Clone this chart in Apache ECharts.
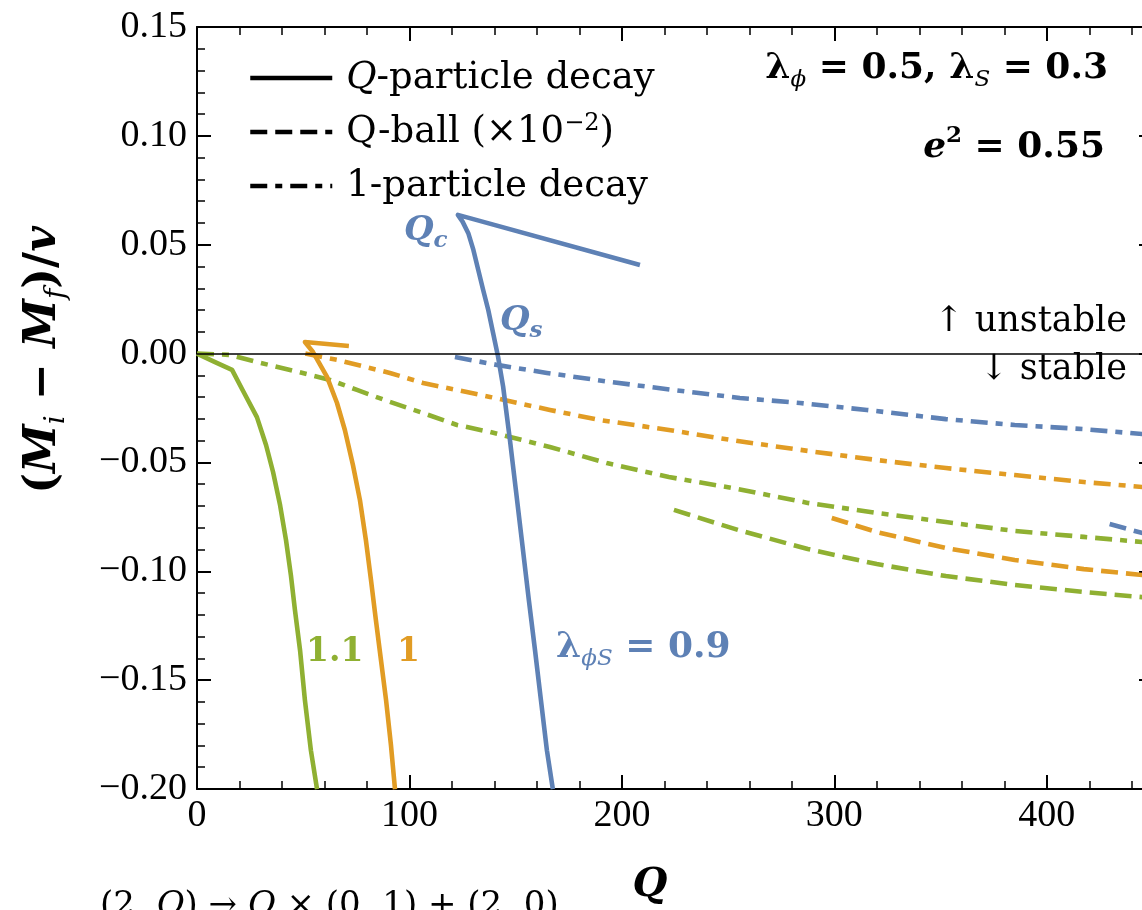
<!DOCTYPE html>
<html>
<head>
<meta charset="utf-8">
<script src="https://cdn.jsdelivr.net/npm/echarts@6/dist/echarts.min.js"></script>
<style>
  html, body { margin: 0; background: #fff; }
  #main { width: 1142px; height: 910px; }
</style>
</head>
<body>
<div id="main"></div>
<script>
// colours (Mathematica default palette)
const BLUE = '#5E81B5';
const ORANGE = '#E19C24';
const GREEN = '#8FB032';

// Q-particle decay (solid), [Q, (Mi - Mf)/v]
const qpGreen = [[0, 0], [8.5, -0.0039], [16.5, -0.0075], [21.2, -0.0163], [28.2, -0.0292], [32.5, -0.042],
  [35.8, -0.0544], [39.1, -0.0696], [41.9, -0.0857], [44.2, -0.1018], [46.1, -0.1178], [48.5, -0.1362],
  [50.8, -0.1592], [53.6, -0.1822], [56.5, -0.2001]];
const qpOrange = [[71.5, 0.0035], [50.8, 0.0053], [54.6, 0.0007], [61.2, -0.0107], [65.9, -0.0227],
  [69.6, -0.0351], [73.4, -0.0512], [76.7, -0.0673], [79.5, -0.0857], [81.9, -0.104], [84.2, -0.1224],
  [86.6, -0.1408], [89.0, -0.1592], [91.3, -0.1799], [93.2, -0.2001]];
const qpBlue = [[208.5, 0.0407], [122.8, 0.0637], [125.0, 0.0606], [127.7, 0.0553], [130.1, 0.0476],
  [132.4, 0.0384], [134.7, 0.0292], [137.1, 0.02], [139.4, 0.0093], [141.7, -0.0014], [144.1, -0.0152],
  [147.3, -0.0397], [150.1, -0.0627], [152.9, -0.0857], [156.2, -0.1132], [159.1, -0.1362],
  [161.9, -0.1592], [164.7, -0.1822], [167.5, -0.2001]];

// Q-ball (x10^-2), dashed
const qbGreen = [[224.5, -0.0718], [254.6, -0.081], [287.5, -0.0898], [320, -0.0967], [352.5, -0.1022],
  [384.9, -0.1063], [417.4, -0.1095], [450, -0.1123]];
const qbOrange = [[298.8, -0.0755], [320, -0.082], [352.5, -0.0893], [384.9, -0.0948], [417.4, -0.099],
  [450, -0.1022]];
const qbBlue = [[429.6, -0.0783], [450, -0.0838]];

// 1-particle decay, dash-dot
const opGreen = [[0, 0], [15.5, -0.0006], [28.2, -0.0039], [43.8, -0.0075], [62.6, -0.0121], [75.3, -0.0167],
  [90.8, -0.0222], [106.4, -0.0273], [122.4, -0.0328], [137.9, -0.036], [166.1, -0.0429], [192.9, -0.0503],
  [222.1, -0.0567], [254.6, -0.0622], [287.5, -0.0686], [320, -0.0732], [352.5, -0.0774], [384.9, -0.0815],
  [417.4, -0.0842], [450, -0.087]];
const opOrange = [[51, 0], [65.9, -0.0029], [90.8, -0.0089], [106.4, -0.0135], [137.9, -0.0199],
  [166.1, -0.0259], [189.6, -0.0305], [222.1, -0.0351], [254.6, -0.0402], [287.5, -0.0447], [320, -0.0489],
  [352.5, -0.0526], [384.9, -0.0558], [417.4, -0.059], [450, -0.0617]];
const opBlue = [[121.4, -0.0016], [141.2, -0.0052], [164.7, -0.0089], [194.4, -0.013], [224, -0.0167],
  [255.5, -0.0204], [283.8, -0.0227], [315.3, -0.0259], [352.5, -0.0301], [384.9, -0.0328],
  [417.4, -0.0347], [450, -0.0374]];

const legendNames = ['Q-particle decay', 'Q-ball', '1-particle decay'];

const DASH = [17, 8];
const DASHDOT = [17, 8, 7, 8];
const LW = 4.6;
const SERIF = 'DejaVu Serif';
const NUM = 'Liberation Serif';

function curve(data, color, type) {
  return {
    type: 'line', data: data, symbol: 'none', silent: true,
    lineStyle: { color: color, width: LW, type: type, cap: 'butt', join: 'round' },
    itemStyle: { color: color }
  };
}
function dummy(name, type) {
  return {
    name: name, type: 'line', data: [], symbol: 'none',
    lineStyle: { color: '#000', width: 4, type: type, cap: 'butt' },
    itemStyle: { color: 'rgba(0,0,0,0)' }
  };
}

function yFmt(v) {
  if (Math.abs(v) < 1e-9) return '0.00';
  return (v < 0 ? '\u2212' : '') + Math.abs(v).toFixed(2);
}

const axisCommon = {
  type: 'value', min: 0, max: 450,
  axisLine: { onZero: false, lineStyle: { color: '#000', width: 2 } },
  splitLine: { show: false }
};

const sub = { fontFamily: SERIF, fontStyle: 'italic', fontSize: 23, verticalAlign: 'bottom', lineHeight: 26 };
const sup = { fontFamily: SERIF, fontWeight: 'bold', fontSize: 23, verticalAlign: 'top', lineHeight: 26 };
const bold = { fontFamily: SERIF, fontWeight: 'bold', fontSize: 36, lineHeight: 46, verticalAlign: 'middle' };
const boldIt = Object.assign({}, bold, { fontStyle: 'italic' });

const chart = echarts.init(document.getElementById('main'));
const zeroLine = {
  silent: true, symbol: 'none', label: { show: false },
  lineStyle: { color: '#000', width: 1.5, type: 'solid' },
  data: [{ yAxis: 0 }]
};
const s0 = curve(qpGreen, GREEN, 'solid');
s0.markLine = zeroLine;

chart.setOption({
  animation: false,
  backgroundColor: '#fff',
  grid: { left: 197, top: 27, width: 956, height: 762, outerBoundsMode: 'none', containLabel: false },
  xAxis: [
    Object.assign({}, axisCommon, {
      position: 'bottom', interval: 100,
      axisTick: { inside: true, length: 14, lineStyle: { color: '#000', width: 2 } },
      axisLabel: { color: '#000', fontFamily: NUM, fontSize: 38, margin: 8, showMaxLabel: false }
    }),
    Object.assign({}, axisCommon, {
      position: 'bottom', interval: 20, axisLine: { show: false, onZero: false },
      axisTick: { inside: true, length: 8, lineStyle: { color: '#000', width: 1.5 } },
      axisLabel: { show: false }
    }),
    Object.assign({}, axisCommon, {
      position: 'top', interval: 100,
      axisTick: { inside: true, length: 14, lineStyle: { color: '#000', width: 2 } },
      axisLabel: { show: false }
    }),
    Object.assign({}, axisCommon, {
      position: 'top', interval: 20, axisLine: { show: false, onZero: false },
      axisTick: { inside: true, length: 8, lineStyle: { color: '#000', width: 1.5 } },
      axisLabel: { show: false }
    })
  ],
  yAxis: [
    {
      type: 'value', min: -0.2, max: 0.15, interval: 0.05, position: 'left',
      axisLine: { onZero: false, lineStyle: { color: '#000', width: 2 } },
      axisTick: { inside: true, length: 14, lineStyle: { color: '#000', width: 2 } },
      minorTick: { show: true, splitNumber: 5, length: 8, lineStyle: { color: '#000', width: 1.5 } },
      splitLine: { show: false },
      axisLabel: { color: '#000', fontFamily: NUM, fontSize: 38, margin: 10, formatter: yFmt }
    },
    {
      type: 'value', min: -0.2, max: 0.15, interval: 0.05, position: 'right',
      axisLine: { onZero: false, lineStyle: { color: '#000', width: 2 } },
      axisTick: { inside: true, length: 14, lineStyle: { color: '#000', width: 2 } },
      minorTick: { show: true, splitNumber: 5, length: 8, lineStyle: { color: '#000', width: 1.5 } },
      splitLine: { show: false },
      axisLabel: { show: false }
    }
  ],
  legend: {
    orient: 'vertical', left: 243, top: 53,
    itemWidth: 82, itemHeight: 14, itemGap: 14,
    selectedMode: false,
    data: legendNames,
    itemStyle: { opacity: 0 },
    lineStyle: { width: 4.5, color: '#000' },
    formatter: function (name) {
      if (name === 'Q-particle decay') return '{qi|Q}-particle decay';
      if (name === 'Q-ball') return 'Q-ball (\u00d710{sup|\u22122})';
      return name;
    },
    textStyle: {
      color: '#000', fontFamily: SERIF, fontSize: 37, lineHeight: 40, padding: [0, 0, 0, 9],
      rich: {
        qi: { fontFamily: SERIF, fontStyle: 'italic', fontSize: 37, lineHeight: 40 },
        sup: { fontFamily: SERIF, fontSize: 24, verticalAlign: 'top', lineHeight: 30 }
      }
    }
  },
  series: [
    dummy(legendNames[0], 'solid'),
    dummy(legendNames[1], DASH),
    dummy(legendNames[2], DASHDOT),
    curve(opGreen, GREEN, DASHDOT),
    curve(opOrange, ORANGE, DASHDOT),
    curve(opBlue, BLUE, DASHDOT),
    curve(qbGreen, GREEN, DASH),
    curve(qbOrange, ORANGE, DASH),
    curve(qbBlue, BLUE, DASH),
    s0,
    curve(qpOrange, ORANGE, 'solid'),
    curve(qpBlue, BLUE, 'solid')
  ],
  graphic: [
    { type: 'text', right: 34, top: 51, style: {
      text: '{b|\u03bb}{s|\u03d5}{b| = 0.5, \u03bb}{s|S}{b| = 0.3}', fill: '#000',
      rich: { b: bold, s: sub } } },
    { type: 'text', right: 37, top: 125, style: {
      text: '{bi|e}{p|2}{b| = 0.55}', fill: '#000',
      rich: { b: bold, bi: boldIt, p: sup } } },
    { type: 'text', left: 404, top: 214, style: {
      text: '{q|Q}{s|c}', fill: BLUE,
      rich: { q: { fontFamily: SERIF, fontWeight: 'bold', fontStyle: 'italic', fontSize: 34, lineHeight: 44, fill: BLUE },
        s: Object.assign({}, sub, { fill: BLUE, fontWeight: 'bold' }) } } },
    { type: 'text', left: 500, top: 304, style: {
      text: '{q|Q}{s|s}', fill: BLUE,
      rich: { q: { fontFamily: SERIF, fontWeight: 'bold', fontStyle: 'italic', fontSize: 34, lineHeight: 44, fill: BLUE },
        s: Object.assign({}, sub, { fill: BLUE, fontWeight: 'bold' }) } } },
    { type: 'text', right: 15, top: 304, style: {
      text: '\u2191 unstable', fill: '#000', font: '35px "DejaVu Serif"' } },
    { type: 'text', right: 15, top: 352, style: {
      text: '\u2193 stable', fill: '#000', font: '35px "DejaVu Serif"' } },
    { type: 'text', left: 556, top: 630, style: {
      text: '{b|\u03bb}{s|\u03d5S}{b| = 0.9}', fill: BLUE,
      rich: { b: Object.assign({}, bold, { fill: BLUE }),
        s: Object.assign({}, sub, { fill: BLUE }) } } },
    { type: 'text', left: 306, top: 636, style: {
      text: '1.1', fill: GREEN, font: 'bold 33px "DejaVu Serif"' } },
    { type: 'text', left: 397, top: 636, style: {
      text: '1', fill: ORANGE, font: 'bold 33px "DejaVu Serif"' } },
    { type: 'text', x: 44, y: 360, rotation: Math.PI / 2, style: {
      text: '{p|(}{m|M}{s|i}{p| \u2212 }{m|M}{s|f}{p|)/}{m|v}', fill: '#000', align: 'center', verticalAlign: 'middle',
      rich: { p: { fontFamily: SERIF, fontWeight: 'bold', fontSize: 44, lineHeight: 54 },
        m: { fontFamily: SERIF, fontWeight: 'bold', fontStyle: 'italic', fontSize: 44, lineHeight: 54 },
        s: Object.assign({}, sub, { fontSize: 28, lineHeight: 34 }) } } },
    { type: 'text', x: 650, y: 886, style: {
      text: 'Q', fill: '#000', align: 'center', verticalAlign: 'middle',
      font: 'italic bold 40px "DejaVu Serif"' } },
    { type: 'text', left: 100, top: 889, style: {
      text: '{r|(2, }{i|Q}{r|) \u2192 }{i|Q}{r| \u00d7 (0, 1) + (2, 0)}', fill: '#000',
      rich: { r: { fontFamily: SERIF, fontSize: 34 }, i: { fontFamily: SERIF, fontStyle: 'italic', fontSize: 34 } } } }
  ]
});
</script>
</body>
</html>
